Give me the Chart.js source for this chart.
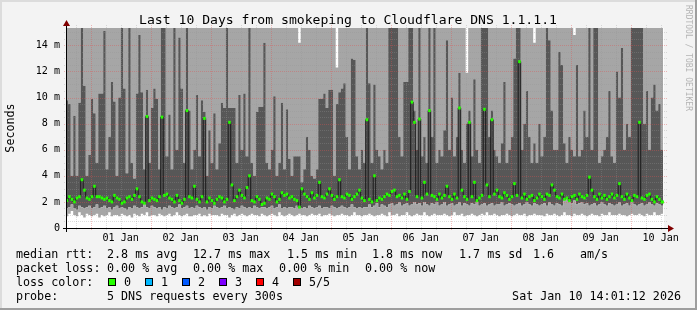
<!DOCTYPE html>
<html>
<head>
<meta charset="utf-8">
<script src="https://cdn.jsdelivr.net/npm/chart.js@4.4.1/dist/chart.umd.min.js"></script>
<style>
  html, body { margin: 0; padding: 0; background: #f3f3f3; }
  canvas { display: block; }
</style>
</head>
<body>
<canvas id="smokeChart" width="697" height="310"></canvas>
<script>
// Smokeping 10 day graph, one column per hour.
// Column i starts at hour FIRST_HOUR + i, counted from 01 Jan 00:00.
const FIRST_HOUR = -10;

// lowest ping (top of white band), ms
const pingLow = [
  0.9, 1.1, 1.3, 1.0, 0.9, 1.2, 1.0, 0.8, 1.1, 1.0,
  0.9, 1.0, 1.1, 0.8, 1.0, 0.9, 1.0, 1.2, 0.9, 1.0,
  1.0, 0.9, 1.1, 1.0, 0.9, 1.0, 0.8, 1.1, 1.0, 0.9,
  1.1, 1.0, 1.2, 0.9, 1.0, 1.0, 0.9, 1.1, 1.0, 0.9,
  1.0, 1.1, 0.9, 1.0, 1.2, 1.0, 0.9, 1.0, 1.1, 0.9,
  0.9, 1.0, 1.0, 1.1, 0.9, 1.0, 0.9, 1.1, 1.0, 1.0,
  1.0, 0.9, 1.1, 1.0, 1.0, 0.8, 1.0, 1.1, 0.9, 1.0,
  1.1, 1.0, 0.9, 1.0, 1.1, 1.0, 1.0, 0.9, 1.1, 1.0,
  0.9, 1.0, 1.1, 1.0, 0.9, 1.2, 1.0, 0.9, 1.0, 1.1,
  1.0, 0.9, 1.0, 1.1, 1.0, 1.0, 0.9, 1.0, 1.1, 1.0,
  1.0, 1.1, 0.9, 1.0, 1.0, 1.1, 1.0, 0.9, 1.0, 1.0,
  1.1, 1.0, 1.0, 0.9, 1.0, 1.2, 1.0, 1.0, 0.9, 1.0,
  1.0, 1.1, 1.0, 0.9, 1.0, 1.0, 1.1, 1.0, 0.9, 1.2,
  1.0, 1.0, 1.1, 0.9, 1.0, 1.0, 1.2, 1.0, 0.9, 1.0,
  1.1, 1.0, 1.0, 1.2, 1.0, 0.9, 1.0, 1.1, 1.0, 1.0,
  1.0, 1.1, 1.0, 0.9, 1.0, 1.2, 1.0, 1.0, 1.1, 0.9,
  1.0, 1.0, 1.1, 1.0, 0.9, 1.0, 1.1, 1.0, 1.2, 1.0,
  1.0, 1.1, 1.0, 0.9, 1.0, 1.0, 1.1, 1.0, 0.9, 1.0,
  1.1, 1.0, 1.0, 1.1, 0.9, 1.0, 1.0, 1.1, 1.0, 1.0,
  1.0, 0.9, 1.1, 1.0, 1.0, 1.1, 1.0, 0.9, 1.0, 1.2,
  1.0, 1.0, 0.9, 1.1, 1.0, 1.0, 1.1, 1.0, 0.9, 1.0,
  1.1, 1.0, 1.0, 0.9, 1.1, 1.0, 1.0, 1.2, 1.0, 1.0,
  1.0, 1.1, 1.0, 1.0, 0.9, 1.0, 1.1, 1.0, 1.0, 1.1,
  1.0, 0.9, 1.1, 1.0, 1.0, 1.2, 1.0, 1.0, 1.1, 1.0
];

// second ping (top of lower light smoke), ms
const pingTwo = [
  1.5, 1.6, 1.8, 1.5, 1.4, 1.7, 1.6, 1.5, 1.6, 1.7,
  1.5, 1.6, 1.8, 1.5, 1.6, 1.7, 1.5, 1.6, 1.4, 1.6,
  1.7, 1.5, 1.6, 1.5, 1.4, 1.6, 1.5, 1.7, 1.6, 1.5,
  1.6, 1.8, 1.6, 1.5, 1.7, 1.6, 1.5, 1.6, 1.4, 1.6,
  1.5, 1.7, 1.6, 1.5, 1.6, 1.8, 1.5, 1.6, 1.7, 1.5,
  1.6, 1.5, 1.7, 1.6, 1.5, 1.6, 1.4, 1.6, 1.5, 1.7,
  1.6, 1.5, 1.6, 1.7, 1.5, 1.6, 1.5, 1.4, 1.6, 1.5,
  1.7, 1.6, 1.5, 1.6, 1.5, 1.7, 1.6, 1.5, 1.6, 1.6,
  1.5, 1.6, 1.7, 1.5, 1.6, 1.8, 1.5, 1.6, 1.5, 1.6,
  1.6, 1.5, 1.7, 1.6, 1.5, 1.6, 1.5, 1.7, 1.6, 1.5,
  1.6, 1.7, 1.5, 1.6, 1.6, 1.5, 1.7, 1.6, 1.5, 1.6,
  1.7, 1.6, 1.5, 1.6, 1.8, 1.6, 1.5, 1.6, 1.5, 1.6,
  1.6, 1.8, 1.6, 1.7, 1.9, 1.6, 1.8, 1.7, 1.6, 1.8,
  1.9, 1.7, 1.8, 2.0, 1.7, 1.8, 1.9, 1.7, 1.8, 2.0,
  1.8, 1.9, 1.7, 2.0, 1.8, 1.7, 1.9, 1.8, 2.0, 1.7,
  1.8, 2.0, 1.7, 1.8, 1.9, 1.7, 1.8, 2.0, 1.7, 1.9,
  1.8, 1.7, 1.9, 1.8, 2.0, 1.7, 1.8, 1.9, 1.7, 1.8,
  1.9, 1.7, 1.8, 1.8, 2.0, 1.7, 1.8, 1.9, 1.8, 1.7,
  1.8, 1.9, 1.7, 1.8, 2.0, 1.8, 1.7, 1.9, 1.8, 1.7,
  1.8, 1.9, 1.7, 2.0, 1.8, 1.7, 1.9, 1.8, 1.7, 2.1,
  2.2, 2.0, 1.9, 2.1, 1.8, 1.9, 2.0, 1.8, 1.9, 1.7,
  1.8, 1.9, 1.7, 1.8, 2.0, 1.8, 1.7, 1.9, 1.8, 1.7,
  1.8, 2.0, 1.7, 1.8, 1.9, 1.7, 2.0, 1.8, 1.7, 1.8,
  1.9, 1.7, 1.8, 2.0, 1.8, 1.7, 1.9, 1.8, 1.7, 1.8
];

// fourth ping (top of dark smoke), ms; 16 = above the graph
const pingFour = [
  9.8, 9.5, 4.0, 8.6, 4.0, 9.6, 16, 10.9, 4.0, 5.6,
  9.9, 8.8, 5.0, 10.3, 10.3, 15.1, 4.5, 7.0, 11.2, 9.7,
  4.0, 10.0, 16, 10.7, 4.2, 16, 5.0, 3.8, 10.3, 14.8,
  10.4, 4.5, 10.6, 5.0, 9.2, 10.7, 9.9, 4.5, 16, 16,
  5.5, 8.7, 4.5, 16, 6.0, 14.6, 10.7, 5.0, 16, 9.0,
  4.5, 6.0, 10.2, 5.5, 9.8, 8.9, 4.0, 7.5, 5.0, 8.8,
  4.5, 6.5, 9.6, 9.2, 16, 9.2, 9.2, 9.2, 5.0, 10.2,
  6.0, 10.3, 5.5, 16, 5.0, 4.0, 8.9, 9.3, 9.3, 14.2,
  5.0, 4.5, 6.0, 10.1, 4.0, 5.0, 9.6, 4.5, 9.1, 5.3,
  4.0, 5.5, 5.5, 5.5, 3.5, 4.5, 7.0, 6.0, 4.0, 3.8,
  4.5, 9.9, 9.9, 10.3, 9.2, 10.6, 10.6, 4.0, 9.5, 10.4,
  10.7, 11.1, 7.0, 4.5, 13.0, 12.9, 5.5, 4.5, 6.0, 5.0,
  16, 11.1, 5.0, 11.0, 6.0, 5.5, 4.5, 6.0, 5.0, 16,
  16, 16, 16, 7.0, 5.5, 11.2, 11.2, 16, 16, 9.0,
  6.0, 16, 5.5, 7.0, 5.0, 16, 7.0, 16, 5.0, 6.0,
  5.5, 7.5, 14.4, 6.0, 10.0, 5.5, 7.0, 11.9, 6.0, 5.0,
  8.0, 9.0, 5.5, 11.4, 6.0, 5.0, 16, 16, 16, 7.0,
  9.0, 6.0, 5.5, 5.0, 6.5, 11.2, 5.0, 6.0, 7.0, 13.0,
  16, 16, 6.0, 8.0, 10.5, 7.0, 5.0, 6.5, 5.0, 8.0,
  5.5, 7.0, 16, 14.4, 9.0, 6.0, 6.0, 13.5, 12.5, 6.5,
  5.0, 7.0, 6.0, 5.5, 12.5, 5.5, 6.0, 9.0, 7.0, 16,
  6.0, 16, 16, 5.0, 5.5, 6.0, 7.0, 10.5, 5.5, 5.0,
  12.0, 10.0, 13.8, 6.0, 8.0, 7.0, 16, 16, 16, 16,
  16, 8.0, 10.5, 6.0, 10.0, 11.0, 9.0, 9.5, 6.0, 6.0
];

// highest ping (top of upper light smoke), ms; 16 = above the graph
const pingHigh = [
  16, 16, 16, 16, 16, 16, 16, 16, 16, 16,
  16, 16, 16, 16, 16, 16, 16, 16, 16, 16,
  16, 16, 16, 16, 16, 16, 16, 16, 16, 16,
  16, 16, 16, 16, 16, 16, 16, 16, 16, 16,
  16, 16, 16, 16, 16, 16, 16, 16, 16, 16,
  16, 16, 16, 16, 16, 16, 16, 16, 16, 16,
  16, 16, 16, 16, 16, 16, 16, 16, 16, 16,
  16, 16, 16, 16, 16, 16, 16, 16, 16, 16,
  16, 16, 16, 16, 16, 16, 16, 16, 16, 16,
  16, 16, 16, 14.2, 16, 16, 16, 16, 16, 16,
  16, 16, 16, 16, 16, 16, 16, 16, 12.3, 16,
  16, 16, 16, 16, 16, 16, 16, 16, 16, 16,
  16, 16, 16, 16, 16, 16, 16, 16, 16, 16,
  16, 16, 16, 16, 16, 16, 16, 16, 16, 16,
  16, 16, 16, 16, 16, 16, 16, 16, 16, 16,
  16, 16, 16, 16, 16, 16, 16, 16, 16, 16,
  11.9, 16, 16, 16, 16, 16, 16, 16, 16, 16,
  16, 16, 16, 16, 16, 16, 16, 16, 16, 16,
  16, 16, 16, 16, 16, 16, 16, 14.2, 16, 16,
  16, 16, 16, 16, 16, 16, 16, 16, 16, 16,
  16, 16, 16, 14.8, 16, 16, 16, 16, 16, 16,
  16, 16, 16, 16, 16, 16, 16, 16, 16, 16,
  16, 16, 16, 16, 16, 16, 16, 16, 16, 16,
  16, 16, 16, 16, 16, 16, 16, 16, 16, 16
];

// median rtt, ms
const medianRtt = [
  2.1, 2.4, 2.2, 2.0, 2.3, 2.4, 3.7, 2.9, 2.3, 2.2,
  2.4, 3.2, 2.4, 2.4, 2.3, 2.2, 2.3, 2.1, 2.0, 2.5,
  2.3, 2.2, 1.9, 2.0, 2.3, 2.4, 2.2, 2.5, 3.0, 2.4,
  2.0, 1.9, 8.55, 2.1, 2.3, 2.2, 2.1, 2.4, 8.5, 2.5,
  2.6, 2.3, 2.2, 2.0, 2.5, 2.1, 1.9, 2.2, 9.0, 2.4,
  2.3, 3.2, 2.2, 2.0, 2.4, 8.4, 2.0, 2.3, 2.1, 1.9,
  2.2, 2.4, 2.3, 2.0, 2.2, 8.1, 3.3, 2.1, 2.4, 2.9,
  2.5, 2.3, 3.1, 4.0, 2.1, 2.0, 2.4, 2.2, 1.8, 1.9,
  2.3, 2.2, 2.6, 2.4, 2.0, 2.2, 2.7, 2.5, 2.6, 2.3,
  2.4, 2.2, 2.1, 1.6, 3.0, 2.6, 2.4, 2.2, 2.7, 2.3,
  2.5, 3.5, 2.4, 2.3, 2.6, 3.0, 2.5, 2.2, 2.4, 3.7,
  2.4, 2.3, 2.6, 2.5, 2.2, 2.4, 2.6, 2.9, 2.3, 2.1,
  8.3, 2.2, 2.0, 4.0, 2.1, 2.3, 2.2, 2.4, 2.6, 2.5,
  2.8, 2.9, 2.4, 2.5, 2.3, 2.6, 2.2, 2.8, 9.65, 8.1,
  2.4, 8.35, 2.3, 3.5, 2.6, 9.0, 2.5, 2.4, 2.2, 2.6,
  2.3, 2.5, 3.2, 2.4, 2.2, 2.6, 2.3, 9.2, 2.9, 2.4,
  2.2, 8.1, 2.4, 3.5, 2.1, 2.3, 2.5, 9.1, 3.3, 2.4,
  8.3, 2.6, 2.9, 2.4, 2.3, 2.7, 2.5, 2.2, 2.4, 3.4,
  2.5, 12.75, 2.3, 2.6, 2.2, 2.4, 2.5, 2.1, 2.3, 2.6,
  2.4, 2.2, 2.6, 2.5, 3.3, 2.9, 2.4, 2.3, 2.6, 2.2,
  2.3, 2.1, 2.4, 2.5, 2.2, 2.6, 2.4, 2.3, 2.5, 3.9,
  2.9, 2.4, 2.2, 2.6, 2.3, 2.5, 2.2, 2.4, 2.6, 2.3,
  2.5, 3.4, 2.4, 2.2, 2.6, 2.3, 2.1, 2.5, 2.4, 8.1,
  2.3, 2.2, 2.5, 2.6, 2.2, 2.0, 2.4, 2.2, 2.0, 2.0
];

// axis ticks
const xTickHours = [12, 36, 60, 84, 108, 132, 156, 180, 204, 228];
const xTickLabels = ['01 Jan', '02 Jan', '03 Jan', '04 Jan', '05 Jan', '06 Jan', '07 Jan', '08 Jan', '09 Jan', '10 Jan'];
const yTickValues = [0, 2, 4, 6, 8, 10, 12, 14];
const yTickLabels = ['0', '2 m', '4 m', '6 m', '8 m', '10 m', '12 m', '14 m'];

const X_MIN = -9.48;
const X_MAX = 229.32;
const Y_MAX = 15.33;

const MONO = "'DejaVu Sans Mono', monospace";
const LIGHT_SMOKE = '#a6a6a6';
const DARK_SMOKE = '#575757';
const MAJOR_GRID = 'rgba(224, 80, 80, 0.38)';
const MINOR_GRID = 'rgba(150, 150, 150, 0.32)';
const LOSS_COLORS = ['#26ff00', '#00b8ff', '#0059ff', '#7e00ff', '#ff0000', '#a10000'];
const LOSS_LABELS = ['0', '1', '2', '3', '4', '5/5'];

const hours = medianRtt.map((_, i) => FIRST_HOUR + i);
const toPoints = arr => arr.map((v, i) => ({ x: hours[i], y: v }));

function drawGrid(chart) {
    const { ctx, chartArea: a, scales: { x, y } } = chart;
    ctx.save();
    ctx.lineWidth = 1;
    ctx.setLineDash([1, 1]);
    // horizontal: minor every 0.5 ms, major every 2 ms
    for (let v = 0.5; v < Y_MAX; v += 0.5) {
        const major = v % 2 === 0;
        const py = Math.round(y.getPixelForValue(v)) + 0.5;
        ctx.strokeStyle = major ? MAJOR_GRID : MINOR_GRID;
        ctx.beginPath();
        ctx.moveTo(a.left - 3, py);
        ctx.lineTo(a.right + 3, py);
        ctx.stroke();
    }
    // vertical: minor every 6 h, major at midnight
    for (let h = -6; h < X_MAX; h += 6) {
        const major = h % 24 === 0;
        const px = Math.round(x.getPixelForValue(h)) + 0.5;
        ctx.strokeStyle = major ? MAJOR_GRID : MINOR_GRID;
        ctx.beginPath();
        ctx.moveTo(px, a.top - 3);
        ctx.lineTo(px, a.bottom + 3);
        ctx.stroke();
    }
    ctx.restore();
}

const rrdPlugin = {
    id: 'rrdFrame',
    beforeDraw(chart) {
        const { ctx, width, height, chartArea: a } = chart;
        ctx.save();
        ctx.fillStyle = '#f3f3f3';
        ctx.fillRect(0, 0, width, height);
        ctx.fillStyle = '#dcdcdc';
        ctx.fillRect(0, 0, width, 2);
        ctx.fillRect(0, 0, 2, height);
        ctx.fillStyle = '#9e9e9e';
        ctx.fillRect(0, height - 2, width, 2);
        ctx.fillRect(width - 2, 0, 2, height);
        ctx.fillStyle = '#ffffff';
        ctx.fillRect(a.left, a.top, a.right - a.left, a.bottom - a.top);
        ctx.restore();
    },
    afterDatasetDraw(chart, args) {
        // grid sits over the smoke but under the median line
        if (args.index === 2) drawGrid(chart);
    },
    afterDraw(chart) {
        const { ctx, chartArea: a } = chart;
        ctx.save();

        // axes
        ctx.fillStyle = '#000000';
        ctx.fillRect(a.left - 4, a.bottom, a.right - a.left + 8, 1);
        ctx.fillRect(a.left - 1, a.top - 4, 1, a.bottom - a.top + 8);
        ctx.fillStyle = '#800000';
        ctx.beginPath();
        ctx.moveTo(a.right + 4, a.bottom - 3);
        ctx.lineTo(a.right + 10, a.bottom + 0.5);
        ctx.lineTo(a.right + 4, a.bottom + 4);
        ctx.closePath();
        ctx.fill();
        ctx.beginPath();
        ctx.moveTo(a.left - 4, a.top - 2);
        ctx.lineTo(a.left - 0.5, a.top - 8);
        ctx.lineTo(a.left + 3, a.top - 2);
        ctx.closePath();
        ctx.fill();

        // title
        ctx.fillStyle = '#000000';
        ctx.font = '13.1px ' + MONO;
        ctx.textAlign = 'center';
        ctx.textBaseline = 'alphabetic';
        ctx.fillText('Last 10 Days from smokeping to Cloudflare DNS 1.1.1.1', 348, 24);

        // vertical unit label
        ctx.save();
        ctx.translate(11, (a.top + a.bottom) / 2);
        ctx.rotate(-Math.PI / 2);
        ctx.font = '11.7px ' + MONO;
        ctx.textBaseline = 'middle';
        ctx.fillText('Seconds', 0, 0);
        ctx.restore();

        // watermark
        ctx.save();
        ctx.translate(688, 5);
        ctx.rotate(Math.PI / 2);
        ctx.font = '8px ' + MONO;
        ctx.fillStyle = '#b4b4b4';
        ctx.textAlign = 'left';
        ctx.textBaseline = 'middle';
        ctx.fillText('RRDTOOL / TOBI OETIKER', 0, 0);
        ctx.restore();

        // legend
        ctx.font = '11.7px ' + MONO;
        ctx.textAlign = 'left';
        ctx.textBaseline = 'alphabetic';
        ctx.fillStyle = '#000000';
        const rows = [
            [['median rtt:', 16], ['2.8 ms avg', 107], ['12.7 ms max', 193], ['1.5 ms min', 287],
             ['1.8 ms now', 372], ['1.7 ms sd', 459], ['1.6', 533], ['am/s', 580]],
            [['packet loss:', 16], ['0.00 % avg', 107], ['0.00 % max', 193], ['0.00 % min', 279], ['0.00 % now', 365]],
            [['loss color:', 16]],
            [['probe:', 16], ['5 DNS requests every 300s', 107]]
        ];
        rows.forEach((row, r) => {
            row.forEach(([t, x]) => ctx.fillText(t, x, 258 + r * 14));
        });
        LOSS_COLORS.forEach((c, i) => {
            const bx = 108 + i * 37;
            ctx.fillStyle = c;
            ctx.fillRect(bx, 278, 8, 8);
            ctx.strokeStyle = '#000000';
            ctx.lineWidth = 1;
            ctx.strokeRect(bx + 0.5, 278.5, 7, 7);
            ctx.fillStyle = '#000000';
            ctx.fillText(LOSS_LABELS[i], bx + 16, 286);
        });
        ctx.textAlign = 'right';
        ctx.fillText('Sat Jan 10 14:01:12 2026', 681, 300);

        ctx.restore();
    }
};

const stepLine = {
    stepped: 'before',
    borderColor: 'rgba(0,0,0,0)',
    borderWidth: 1,
    pointRadius: 0
};

new Chart(document.getElementById('smokeChart'), {
    type: 'line',
    data: {
        datasets: [
            {
                label: 'median (loss 0)',
                data: medianRtt.map((v, i) => ({ x: hours[i] + 0.5, y: v })),
                showLine: false,
                pointStyle: 'line',
                pointRadius: 1.3,
                pointBorderWidth: 3,
                pointBorderColor: LOSS_COLORS[0],
                pointBackgroundColor: LOSS_COLORS[0]
            },
            {
                label: 'median',
                data: toPoints(medianRtt),
                stepped: 'before',
                borderColor: '#1a1a1a',
                borderWidth: 1,
                pointRadius: 0,
                fill: false
            },
            Object.assign({ label: 'ping 1', data: toPoints(pingLow), fill: false }, stepLine),
            Object.assign({ label: 'ping 2', data: toPoints(pingTwo), fill: { target: 2 }, backgroundColor: LIGHT_SMOKE }, stepLine),
            Object.assign({ label: 'ping 4', data: toPoints(pingFour), fill: { target: 3 }, backgroundColor: DARK_SMOKE }, stepLine),
            Object.assign({ label: 'ping 5', data: toPoints(pingHigh), fill: { target: 4 }, backgroundColor: LIGHT_SMOKE }, stepLine)
        ]
    },
    options: {
        responsive: false,
        devicePixelRatio: 1,
        animation: false,
        events: [],
        layout: {
            padding: { top: 28, right: 33, bottom: 0, left: 0 }
        },
        plugins: {
            legend: { display: false },
            tooltip: { enabled: false }
        },
        scales: {
            x: {
                type: 'linear',
                min: X_MIN,
                max: X_MAX,
                grid: { display: false, drawTicks: false },
                border: { display: false },
                afterBuildTicks: scale => {
                    scale.ticks = xTickHours.map(v => ({ value: v }));
                },
                afterFit: scale => {
                    scale.height = 82;
                },
                ticks: {
                    autoSkip: false,
                    maxRotation: 0,
                    padding: 4,
                    color: '#000000',
                    font: { family: MONO, size: 10.1 },
                    callback: (value, index) => xTickLabels[index]
                }
            },
            y: {
                type: 'linear',
                min: 0,
                max: Y_MAX,
                grid: { display: false, drawTicks: false },
                border: { display: false },
                afterBuildTicks: scale => {
                    scale.ticks = yTickValues.map(v => ({ value: v }));
                },
                afterFit: scale => {
                    scale.width = 67;
                },
                ticks: {
                    padding: 7,
                    color: '#000000',
                    font: { family: MONO, size: 10.1 },
                    callback: (value, index) => yTickLabels[index]
                }
            }
        }
    },
    plugins: [rrdPlugin]
});
</script>
</body>
</html>
